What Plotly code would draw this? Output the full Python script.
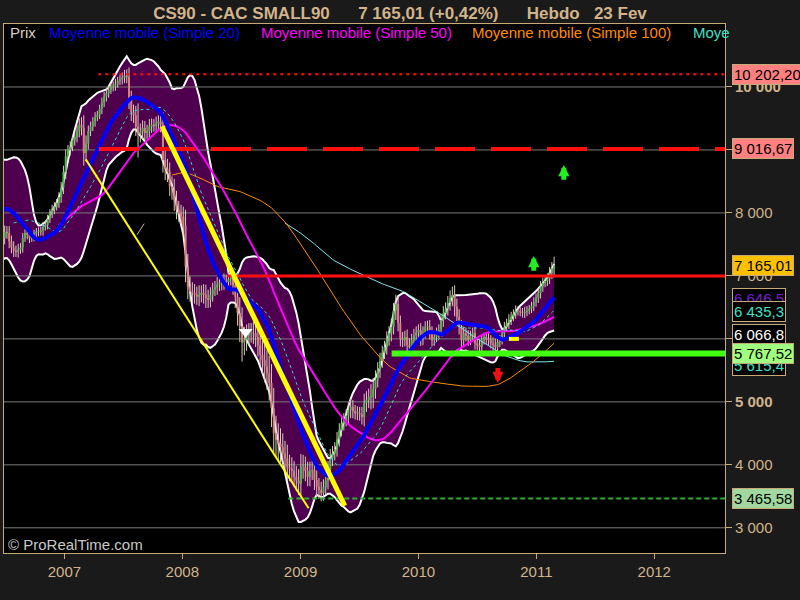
import pandas as pd
import numpy as np
import plotly.graph_objects as go

# ---------------- data ----------------
first_week = "2006-01-06"
closes = [
    7150, 7250, 7300, 7250, 7400, 7550, 7650, 7800, 7900, 8050,
    8150, 8200, 8300, 8400, 8450, 8550, 8650, 8700, 8500, 8150,
    7900, 7700, 7500, 7400, 7600, 7700, 7680, 7550, 7450, 7400,
    7380, 7420, 7450, 7600, 7680, 7650, 7600, 7620, 7660, 7700,
    7700, 7720, 7780, 7810, 7900, 8000, 8050, 8100, 8160, 8250,
    8400, 8650, 8900, 9000, 9050, 9150, 9210, 9300, 9400, 9350,
    8950, 9100, 9300, 9370, 9450, 9520, 9560, 9650, 9750, 9850,
    9900, 9950, 10000, 10020, 10050, 10100, 10120, 10150, 10180, 10160,
    9800, 9600, 9550, 9370, 9250, 9290, 9350, 9270, 9300, 9370,
    9400, 9380, 9420, 9450, 9400, 8840, 8700, 8650, 8420, 8370,
    8200, 8050, 8000, 7940, 7800, 7150, 6830, 6750, 6730, 6700,
    6670, 6700, 6730, 6700, 6650, 6620, 6700, 6780, 6820, 6860,
    6880, 6900, 6920, 6900, 6950, 6970, 6850, 6670, 6410, 6200,
    5940, 5990, 6050, 6090, 6100, 6090, 6030, 5900, 5750, 5660,
    5560, 5450, 5300, 4900, 4500, 4400, 4340, 4280, 4180, 4100,
    3960, 3940, 3900, 3810, 3750, 3700, 3970, 3970, 3900, 3810,
    3900, 3920, 3760, 3650, 3600, 3550, 3650, 3750, 3920, 4100,
    4180, 4250, 4400, 4550, 4660, 4710, 4780, 4870, 4920, 4850,
    4820, 4820, 4800, 4760, 4980, 5030, 5080, 5080, 5200, 5350,
    5510, 5650, 5780, 5870, 6000, 6090, 6190, 6450, 6550, 6250,
    6000, 5980, 6030, 5900, 5870, 5980, 6050, 6100, 6140, 6000,
    6100, 6190, 6190, 6100, 5980, 6030, 6100, 6140, 6300, 6410,
    6480, 6570, 6650, 6700, 6510, 6350, 6190, 5980, 6090, 6050,
    5980, 6050, 6090, 5930, 5900, 5870, 5980, 6030, 6000, 5980,
    5930, 5900, 5870, 5950, 5980, 6090, 6190, 6250, 6300, 6350,
    6400, 6450, 6440, 6420, 6410, 6430, 6450, 6480, 6520, 6580,
    6650, 6730, 6830, 6890, 6920, 6960, 7050, 7120, 7165.01,
]
wicks = [
    60, 70, 50, 80, 60, 70, 60, 80, 70, 60,
    70, 60, 80, 70, 60, 80, 70, 90, 150, 160,
    140, 130, 150, 120, 110, 100, 90, 110, 90, 100,
    80, 90, 70, 80, 60, 70, 80, 60, 70, 60,
    70, 60, 80, 60, 70, 60, 80, 70, 60, 80,
    90, 100, 110, 80, 90, 70, 80, 90, 100, 120,
    200, 130, 90, 80, 70, 80, 60, 70, 80, 70,
    80, 70, 60, 70, 80, 60, 70, 80, 90, 100,
    150, 140, 120, 150, 370, 130, 120, 110, 100, 120,
    100, 90, 110, 100, 120, 200, 180, 160, 150, 160,
    170, 150, 140, 130, 160, 250, 200, 160, 150, 140,
    130, 150, 120, 140, 160, 130, 120, 110, 100, 120,
    100, 110, 120, 100, 110, 100, 150, 180, 200, 250,
    300, 200, 180, 160, 150, 170, 160, 180, 200, 220,
    250, 260, 280, 300, 320, 280, 260, 240, 220, 200,
    220, 200, 180, 160, 170, 180, 200, 190, 160, 150,
    150, 140, 160, 150, 140, 130, 120, 130, 140, 150,
    120, 110, 120, 110, 100, 110, 100, 120, 130, 110,
    100, 110, 100, 120, 150, 140, 130, 200, 180, 150,
    120, 130, 110, 100, 120, 110, 130, 120, 150, 130,
    120, 110, 100, 120, 110, 100, 110, 100, 90, 110,
    100, 90, 100, 110, 100, 90, 80, 90, 100, 110,
    100, 110, 120, 130, 150, 130, 120, 110, 100, 90,
    90, 80, 90, 100, 80, 90, 80, 70, 80, 90,
    80, 90, 100, 90, 80, 70, 80, 70, 90, 80,
    70, 80, 70, 60, 70, 80, 70, 60, 70, 80,
    70, 80, 90, 80, 70, 80, 90, 100, 140,
]

ma_periods = [20, 30, 50, 100, 150]
y_ticks = [3000, 4000, 5000, 6000, 7000, 8000, 9000, 10000]
y_ticktext = ["3 000", "4 000", "<b>5 000</b>", "6 000", "7 000", "8 000", "9 000", "<b>10 000</b>"]

level_values = [10202.20, 9016.67, 7000, 5767.52, 3465.58]
level_starts = ["2007-04-16", "2007-04-18", "2008-05-20", "2009-10-10", "2008-11-24"]

thin_trend_x = ["2007-03-08", "2009-01-26"]
thin_trend_y = [8850, 3310]
thick_trend_x = ["2007-10-30", "2009-05-18"]
thick_trend_y = [9374, 3350]
small_seg_x = ["2007-08-14", "2007-09-05"]
small_seg_y = [7655, 7830]
yellow_mark_x = ["2010-10-08", "2010-11-08"]
yellow_mark_y = [6000, 6000]
triangle_x = ["2008-07-15"]
triangle_y = [6110]

# arrows: (date, tip value, tail value, colour)
arrows = [
    ("2010-12-24", 7318, 7060, "#22ee22"),
    ("2011-03-27", 8763, 8505, "#22ee22"),
    ("2010-09-04", 5300, 5560, "#ee1111"),
]

label_values = [10202.20, 9016.67, 7165.01, 6646.5, 6435.3, 6066.8, 5570, 5767.52, 3465.58]
label_texts = ["10 202,20", "9 016,67", "7 165,01", "6 646,5", "6 435,3", "6 066,8", "5 615,4", "5 767,52", "3 465,58"]
label_bg = ["#ff8080", "#ff8080", "#ffc000", "#000000", "#000000", "#000000", "#000000", "#a0ff80", "#a0d8a0"]
label_fg = ["#000000", "#000000", "#000000", "#7a1fd0", "#40e0c8", "#ffffff", "#40e0c8", "#000000", "#000000"]

# ---------------- derived ----------------
n = len(closes)
dates = pd.date_range(first_week, periods=n, freq="7D")
close = pd.Series(closes, index=dates, dtype=float)
opens = close.shift(1).fillna(close.iloc[0])
wick = pd.Series(wicks, index=dates, dtype=float)
highs = np.maximum(opens, close) + wick
lows = np.minimum(opens, close) - wick

sma = {p: close.rolling(p).mean() for p in ma_periods}
sd20 = close.rolling(20).std(ddof=0)
bb_up = sma[20] + 2 * sd20
bb_dn = sma[20] - 2 * sd20

X_LO, X_HI = "2006-06-28", "2012-08-07"
TAN = "#d2b48c"
BORDER = "#c8aa78"
FONT = "Liberation Sans, Arial, sans-serif"

fig = go.Figure()

# Bollinger band
fig.add_trace(go.Scatter(x=dates, y=bb_up, mode="lines", line=dict(color="white", width=2), hoverinfo="skip"))
fig.add_trace(go.Scatter(x=dates, y=bb_dn, mode="lines", line=dict(color="white", width=2),
                         fill="tonexty", fillcolor="#4e004e", hoverinfo="skip"))

# grid lines
gx, gy = [], []
for v in y_ticks:
    gx += [X_LO, X_HI, None]
    gy += [v, v, None]
fig.add_trace(go.Scatter(x=gx, y=gy, mode="lines", line=dict(color="#7a7a7a", width=1), hoverinfo="skip"))

# candles (drawn as segments so they sit above the band fill)
wx, wy = [], []
ux, uy, dx, dy = [], [], [], []
for d, o, h, l, c in zip(dates, opens, highs, lows, close):
    wx += [d, d, None]
    wy += [l, h, None]
    if c >= o:
        ux += [d, d, None]
        uy += [o, c if c > o else c + 15, None]
    else:
        dx += [d, d, None]
        dy += [o, c, None]
fig.add_trace(go.Scatter(x=wx, y=wy, mode="lines", line=dict(color="#d8ccb4", width=1), hoverinfo="skip"))
fig.add_trace(go.Scatter(x=ux, y=uy, mode="lines", line=dict(color="#52b852", width=2), hoverinfo="skip"))
fig.add_trace(go.Scatter(x=dx, y=dy, mode="lines", line=dict(color="#d88080", width=2), hoverinfo="skip"))

# moving averages
fig.add_trace(go.Scatter(x=dates, y=sma[150], mode="lines", line=dict(color="#80e8e8", width=1)))
fig.add_trace(go.Scatter(x=dates, y=sma[100], mode="lines", line=dict(color="#ff8c00", width=1)))
fig.add_trace(go.Scatter(x=dates, y=sma[50], mode="lines", line=dict(color="#ff00ff", width=2)))
fig.add_trace(go.Scatter(x=dates, y=sma[30], mode="lines", line=dict(color="#30e0d0", width=1, dash="3px,3px")))
fig.add_trace(go.Scatter(x=dates, y=sma[20], mode="lines", line=dict(color="#0000ff", width=4)))

# horizontal levels
level_styles = [
    dict(color="#ff1010", width=2, dash="3px,4px"),
    dict(color="#ff1010", width=4, dash="40px,16px"),
    dict(color="#ff1010", width=3),
    dict(color="#40ff10", width=6),
    dict(color="#30b030", width=2, dash="5px,3px"),
]
for v, s, st in zip(level_values, level_starts, level_styles):
    fig.add_trace(go.Scatter(x=[s, X_HI], y=[v, v], mode="lines", line=st, hoverinfo="skip"))

# trend lines and marks
fig.add_trace(go.Scatter(x=thin_trend_x, y=thin_trend_y, mode="lines", line=dict(color="#ffff00", width=2)))
fig.add_trace(go.Scatter(x=thick_trend_x, y=thick_trend_y, mode="lines", line=dict(color="#ffff00", width=5)))
fig.add_trace(go.Scatter(x=small_seg_x, y=small_seg_y, mode="lines", line=dict(color="#c8b48c", width=1)))
fig.add_trace(go.Scatter(x=yellow_mark_x, y=yellow_mark_y, mode="lines", line=dict(color="#ffff00", width=4)))
fig.add_trace(go.Scatter(x=triangle_x, y=triangle_y, mode="markers",
                         marker=dict(symbol="triangle-down", size=12, color="white")))

annotations = []
for d, tip, tail, col in arrows:
    annotations.append(dict(x=d, y=tip, ax=d, ay=tail, xref="x", yref="y", axref="x", ayref="y",
                            text="", showarrow=True, arrowhead=2, arrowwidth=5, arrowsize=0.45,
                            arrowcolor=col))

# right side value labels
for v, t, bg, fg in zip(label_values, label_texts, label_bg, label_fg):
    annotations.append(dict(x=1, y=v, xref="paper", yref="y", xanchor="left", yanchor="middle",
                            xshift=7, text=t, showarrow=False, bgcolor=bg, bordercolor=BORDER,
                            borderwidth=1, borderpad=1, font=dict(family=FONT, size=15, color=fg)))

# legend line
legend_items = [
    (0.0055, "Prix", "#d8d0c0"),
    (0.0596, "Moyenne mobile (Simple 20)", "#0000ff"),
    (0.3537, "Moyenne mobile (Simple 50)", "#ff00ff"),
    (0.646, "Moyenne mobile (Simple 100)", "#ff8c00"),
    (0.953, "Moye", "#40e0c8"),
]
for x, t, c in legend_items:
    annotations.append(dict(x=x, y=0.983, xref="paper", yref="paper", xanchor="left", yanchor="middle",
                            text=t, showarrow=False, font=dict(family=FONT, size=15, color=c)))

annotations.append(dict(x=0.003, y=0.016, xref="paper", yref="paper", xanchor="left", yanchor="middle",
                        text="© ProRealTime.com", showarrow=False,
                        font=dict(family=FONT, size=15, color="#c8c8c8")))

nb = "\u00a0"
title = f"CS90 - CAC SMALL90{nb*6}7 165,01 (+0,42%){nb*6}Hebdo{nb*3}23 Fev"

fig.update_layout(
    width=800, height=600,
    margin=dict(l=4, r=75, t=24, b=47),
    paper_bgcolor="#1a1a1a", plot_bgcolor="#000000",
    showlegend=False, hovermode=False,
    font=dict(family=FONT, color=TAN, size=15),
    title=dict(text=f"<b>{title}</b>", x=0.5, xanchor="center", y=0.978, yanchor="middle",
               xref="container", yref="container", font=dict(family=FONT, size=17, color=TAN)),
    xaxis=dict(type="date", range=[X_LO, X_HI], showgrid=False, zeroline=False,
               tickformat="%Y", dtick="M12", tick0="2007-01-01",
               ticks="outside", ticklen=5, tickcolor=BORDER,
               showline=True, linecolor=BORDER, linewidth=1, mirror=True,
               tickfont=dict(family=FONT, size=15, color=TAN)),
    yaxis=dict(side="right", range=[2600, 11000], tickvals=y_ticks, ticktext=y_ticktext,
               showgrid=False, zeroline=False, ticks="outside", ticklen=6, tickcolor=BORDER,
               showline=True, linecolor=BORDER, linewidth=1, mirror=True,
               tickfont=dict(family=FONT, size=15, color=TAN)),
    annotations=annotations,
)

fig.write_html("out.html", config={"displayModeBar": False, "staticPlot": True},
               post_script="document.body.style.margin='0';document.body.style.overflow='hidden';")
